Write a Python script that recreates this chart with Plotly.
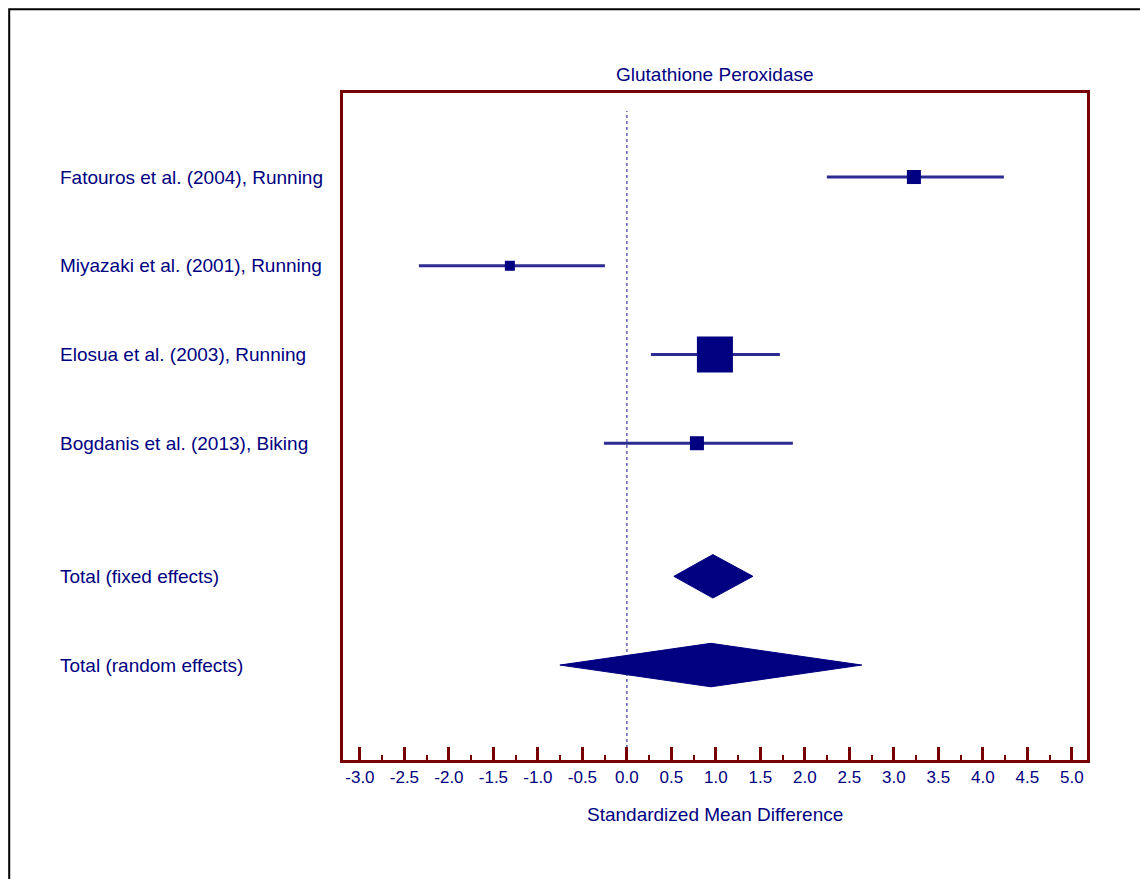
import numpy as np
import plotly.graph_objects as go

# ---- data ----
studies = ["Fatouros et al. (2004), Running",
           "Miyazaki et al. (2001), Running",
           "Elosua et al. (2003), Running",
           "Bogdanis et al. (2013), Biking"]
smd = [3.225, -1.315, 0.989, 0.787]
ci_low = [2.247, -2.337, 0.270, -0.258]
ci_high = [4.236, -0.247, 1.719, 1.865]
weights = [11.0, 5.6, 72.5, 11.0]   # percent weight

pooled_labels = ["Total (fixed effects)", "Total (random effects)"]
pooled_est = [0.966, 0.944]
pooled_low = [0.528, -0.753]
pooled_high = [1.416, 2.640]

tick_vals = [-3.0, -2.5, -2.0, -1.5, -1.0, -0.5, 0.0, 0.5, 1.0, 1.5, 2.0, 2.5, 3.0, 3.5, 4.0, 4.5, 5.0]
tick_text = ["%.1f" % v for v in tick_vals]

title = "Glutathione Peroxidase"
xlabel = "Standardized Mean Difference"

# ---- layout constants ----
NAVY = "#000080"
LINE = "#2b2b91"
MAROON = "#780000"
FONT = "Liberation Sans, Arial, sans-serif"

# pixel geometry of the plot box (page coords, page has 8px body margin)
OFF = 8
L, R, T, B = 343 - OFF, 1087 - OFF, 93 - OFF, 760 - OFF
W, H = 1148, 879
PW, PH = R - L, B - T

def py(ypix):
    return (B - (ypix - OFF)) / PH

def px(xpix):
    return ((xpix - OFF) - L) / PW

study_rows = [1, 2, 3, 4]
pooled_rows = [5.5, 6.5]

fig = go.Figure()

# CI lines
for y, lo, hi in zip(study_rows, ci_low, ci_high):
    fig.add_trace(go.Scatter(x=[lo, hi], y=[y, y], mode="lines",
                             line=dict(color=LINE, width=3), hoverinfo="skip"))
# squares
sizes = [4.23 * np.sqrt(w) for w in weights]
fig.add_trace(go.Scatter(x=smd, y=study_rows, mode="markers",
                         marker=dict(symbol="square", size=sizes, color=NAVY, opacity=1,
                                     line=dict(width=0)), hoverinfo="skip"))
# diamonds
half_h = 0.245
for y, est, lo, hi in zip(pooled_rows, pooled_est, pooled_low, pooled_high):
    fig.add_trace(go.Scatter(x=[lo, est, hi, est, lo], y=[y, y - half_h, y, y + half_h, y],
                             mode="lines", fill="toself", fillcolor=NAVY,
                             line=dict(color=NAVY, width=1), hoverinfo="skip"))

# labels
annotations = []
for y, s in zip(study_rows + pooled_rows, studies + pooled_labels):
    annotations.append(dict(x=px(58), xref="paper", y=y, yref="y", text=s,
                            showarrow=False, xanchor="left", yanchor="middle",
                            font=dict(family=FONT, size=19, color=NAVY)))
annotations.append(dict(x=0.5, xref="paper", y=py(74), yref="paper", text=title,
                        showarrow=False, xanchor="center", yanchor="middle",
                        font=dict(family=FONT, size=19, color=NAVY)))
annotations.append(dict(x=0.5, xref="paper", y=py(814), yref="paper", text=xlabel,
                        showarrow=False, xanchor="center", yanchor="middle",
                        font=dict(family=FONT, size=19, color=NAVY)))

shapes = [
    # zero reference line
    dict(type="line", x0=0, x1=0, xref="x", y0=0, y1=py(111), yref="paper",
         line=dict(color="#3a3aa0", width=1.2, dash="dot"), layer="below"),
    # outer frame (as close to the page edge as the figure allows)
    dict(type="rect", xref="paper", yref="paper",
         x0=px(9.2), x1=px(1170),
         y0=py(900), y1=py(9.2),
         line=dict(color="black", width=2)),
]

fig.update_layout(
    width=W, height=H,
    margin=dict(l=L, r=W - R, t=T, b=H - B),
    paper_bgcolor="white", plot_bgcolor="white",
    showlegend=False,
    annotations=annotations, shapes=shapes,
    xaxis=dict(range=[-3.19, 5.17], tickvals=tick_vals, ticktext=tick_text,
               ticks="inside", ticklen=13, tickwidth=3, tickcolor=MAROON,
               minor=dict(ticks="inside", ticklen=5, tickwidth=2, tickcolor=MAROON, dtick=0.25,
                          tick0=-3.25, showgrid=False),
               showline=True, linecolor=MAROON, linewidth=3, mirror=True,
               showgrid=False, zeroline=False,
               tickfont=dict(family=FONT, size=17, color=NAVY)),
    yaxis=dict(range=[7.57, 0.053], showticklabels=False, ticks="",
               showline=True, linecolor=MAROON, linewidth=3, mirror=True,
               showgrid=False, zeroline=False),
)

fig.write_html("out.html")
